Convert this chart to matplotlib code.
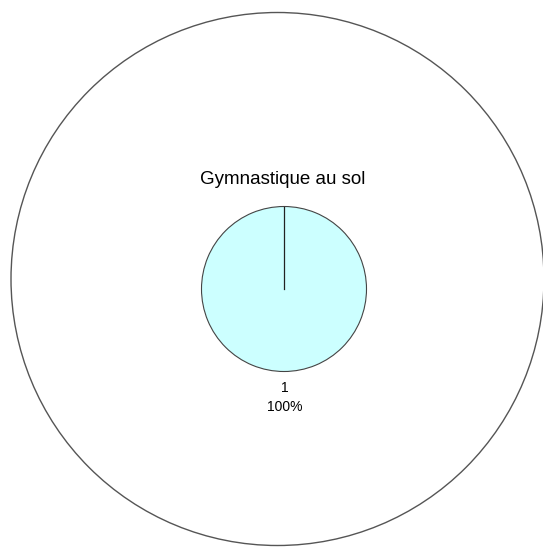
import matplotlib
matplotlib.use("Agg")
import matplotlib.pyplot as plt
import numpy as np
from matplotlib.patches import Circle

# data
title = "Gymnastique au sol"
categories = ["1"]
values = [1]
colors = ["#ccffff"]

W, H = 543, 547
fig = plt.figure(figsize=(W / 100, H / 100), dpi=100)
ax = fig.add_axes([0, 0, 1, 1])

# big outer ring
ax.add_patch(Circle((277.5, H - 279), 266.5, fill=False, edgecolor="#555555", linewidth=1.0))

# pie
cx, cy, r = 284, H - 289, 82.5
start = 90
ax.pie(values, colors=colors, startangle=start, counterclock=False,
       center=(cx, cy), radius=r, frame=True,
       wedgeprops=dict(edgecolor="#444444", linewidth=0.8))

# slice boundary lines (a single full slice still shows its radius)
total = sum(values)
ang = start
for v in values:
    a = np.deg2rad(ang)
    ax.plot([cx, cx + r * np.cos(a)], [cy, cy + r * np.sin(a)], color="#222222", linewidth=0.9)
    ang -= 360 * v / total

ax.set_xlim(0, W)
ax.set_ylim(0, H)
ax.set_aspect("equal")
ax.axis("off")

for cat, v in zip(categories, values):
    pct = 100 * v / total
    ax.text(285, H - 388, cat, ha="center", va="center", fontsize=10,
            family="Liberation Sans", color="black")
    ax.text(285, H - 407, f"{pct:.0f}%", ha="center", va="center", fontsize=10,
            family="Liberation Sans", color="black")

ax.text(283, H - 180, title, ha="center", va="center", fontsize=13.5,
        family="Liberation Sans", color="black")

fig.savefig("out.png", dpi=100, facecolor="white")
